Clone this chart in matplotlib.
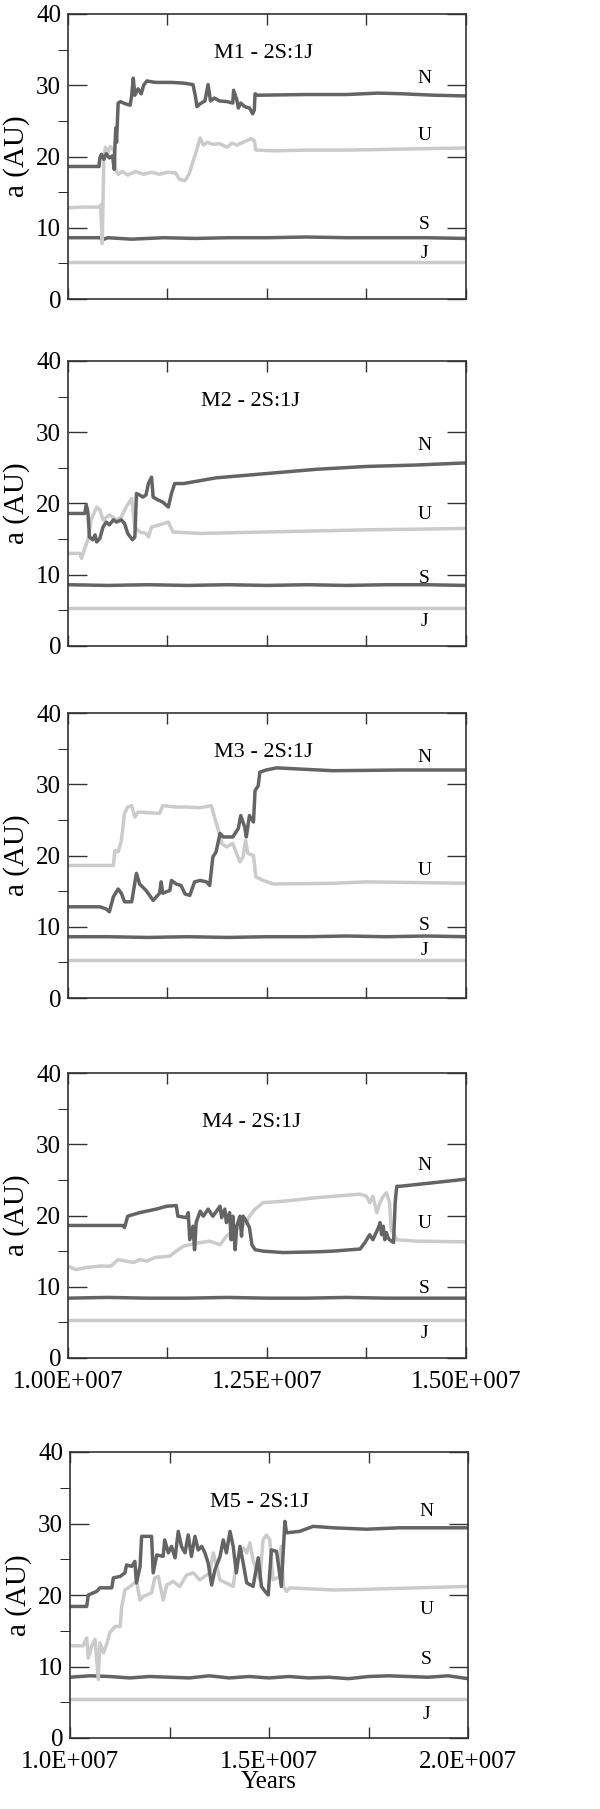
import numpy as np
import matplotlib
matplotlib.use("Agg")
import matplotlib.pyplot as plt

plt.rcParams['font.family'] = ['Liberation Serif', 'DejaVu Serif']

# time values in Myr, semi-major axis in AU
# ---- M1 ----
m1_nep_t = [10.0, 10.39, 10.40, 10.42, 10.45, 10.48, 10.52, 10.56, 10.58, 10.59, 10.60, 10.61, 10.63, 10.66,
            10.72, 10.78, 10.80, 10.82, 10.84, 10.88, 10.92, 10.95, 10.99, 11.10, 11.30, 11.45, 11.57, 11.60,
            11.62, 11.66, 11.72, 11.76, 11.79, 11.84, 11.90, 12.00, 12.07, 12.08, 12.12, 12.14, 12.17, 12.22,
            12.28, 12.32, 12.34, 12.35, 12.38, 13.0, 13.5, 13.9, 14.2, 14.6, 15.0]
m1_nep_a = [18.6, 18.6, 19.8, 20.3, 19.6, 20.4, 19.8, 20.1, 18.2, 21.5, 24.0, 22.0, 27.5, 27.7,
            27.4, 27.2, 28.5, 31.0, 28.6, 29.5, 28.8, 30.0, 30.6, 30.4, 30.4, 30.3, 30.1, 28.5,
            27.0, 27.4, 27.8, 30.1, 27.8, 28.2, 27.8, 27.7, 27.5, 29.3, 28.0, 26.8, 27.5, 27.0,
            26.8, 26.0, 26.5, 28.8, 28.6, 28.7, 28.7, 28.9, 28.8, 28.6, 28.5]
m1_ura_t = [10.0, 10.2, 10.39, 10.41, 10.43, 10.45, 10.47, 10.50, 10.53, 10.58, 10.60, 10.63, 10.68, 10.75,
            10.85, 10.95, 11.05, 11.15, 11.25, 11.35, 11.40, 11.47, 11.52, 11.57, 11.62, 11.66, 11.70, 11.75,
            11.82, 11.90, 12.00, 12.06, 12.12, 12.20, 12.30, 12.34, 12.36, 12.6, 13.0, 13.5, 14.0, 14.5, 15.0]
m1_ura_a = [12.8, 12.9, 12.9, 13.2, 7.8, 19.5, 21.3, 20.5, 21.4, 20.8, 18.1, 17.5, 17.9, 17.4,
            17.9, 17.5, 17.8, 17.5, 17.8, 17.7, 16.8, 16.6, 17.5, 19.3, 21.0, 22.6, 21.6, 22.0,
            21.7, 21.8, 21.3, 21.9, 21.6, 22.0, 22.5, 22.2, 20.9, 20.8, 20.9, 20.9, 21.0, 21.1, 21.2]
m1_sat_t = [10.0, 10.4, 10.43, 10.5, 10.8, 11.2, 11.6, 12.0, 12.5, 13.0, 13.5, 14.0, 14.5, 15.0]
m1_sat_a = [8.6, 8.6, 8.3, 8.6, 8.4, 8.6, 8.5, 8.6, 8.6, 8.7, 8.6, 8.6, 8.6, 8.5]
m1_jup_t = [10.0, 15.0]
m1_jup_a = [5.2, 5.2]

# ---- M2 ----
m2_nep_t = [10.0, 10.21, 10.23, 10.25, 10.27, 10.31, 10.34, 10.36, 10.40, 10.44, 10.48, 10.52, 10.57, 10.61,
            10.67, 10.71, 10.75, 10.81, 10.84, 10.86, 10.90, 10.94, 10.98, 11.01, 11.05, 11.07, 11.13, 11.19,
            11.26, 11.30, 11.34, 11.45, 11.86, 12.49, 13.12, 13.75, 14.38, 15.0]
m2_nep_a = [18.6, 18.6, 19.8, 18.8, 15.3, 14.9, 15.6, 14.6, 15.1, 16.7, 17.4, 17.0, 17.7, 17.4,
            17.7, 17.2, 15.8, 14.9, 15.3, 21.4, 21.2, 20.9, 21.2, 22.8, 23.7, 20.9, 20.5, 20.2,
            19.5, 21.4, 22.8, 22.8, 23.6, 24.2, 24.8, 25.2, 25.4, 25.7]
m2_ura_t = [10.0, 10.15, 10.17, 10.21, 10.25, 10.29, 10.36, 10.40, 10.44, 10.52, 10.61, 10.67, 10.73, 10.80,
            10.84, 10.90, 10.98, 11.01, 11.05, 11.15, 11.26, 11.32, 11.66, 12.49, 13.75, 15.0]
m2_ura_a = [13.0, 13.0, 12.3, 13.7, 14.9, 17.7, 19.5, 19.1, 17.7, 18.4, 17.7, 18.1, 19.5, 20.7,
            16.7, 16.0, 15.8, 15.3, 16.7, 17.0, 17.4, 16.0, 15.8, 16.0, 16.3, 16.5]
m2_sat_t = [10.0, 10.5, 11.0, 11.5, 12.0, 12.5, 13.0, 13.5, 14.0, 14.5, 15.0]
m2_sat_a = [8.6, 8.5, 8.6, 8.5, 8.6, 8.5, 8.6, 8.5, 8.6, 8.6, 8.5]
m2_jup_t = [10.0, 15.0]
m2_jup_a = [5.3, 5.3]

# ---- M3 ----
m3_nep_t = [10.0, 10.40, 10.48, 10.52, 10.57, 10.63, 10.67, 10.71, 10.80, 10.86, 10.90, 10.98, 11.07, 11.15,
            11.17, 11.19, 11.28, 11.30, 11.36, 11.42, 11.47, 11.53, 11.59, 11.66, 11.74, 11.78, 11.82, 11.86,
            11.91, 11.95, 12.07, 12.14, 12.17, 12.22, 12.24, 12.28, 12.33, 12.35, 12.39, 12.41, 12.49, 12.62,
            13.33, 14.2, 15.0]
m3_nep_a = [12.8, 12.8, 12.5, 12.1, 14.2, 15.3, 14.7, 13.5, 13.5, 17.5, 16.0, 15.1, 13.7, 14.7,
            16.3, 14.7, 15.1, 16.5, 16.0, 15.8, 14.6, 14.4, 16.3, 16.5, 16.3, 15.8, 19.8, 20.5,
            23.1, 22.6, 22.6, 23.8, 25.6, 24.0, 22.6, 25.6, 24.7, 29.1, 29.8, 31.7, 32.0, 32.3,
            31.9, 32.0, 32.0]
m3_ura_t = [10.0, 10.57, 10.59, 10.63, 10.67, 10.71, 10.75, 10.80, 10.84, 10.88, 11.15, 11.19, 11.36, 11.49,
            11.66, 11.80, 11.84, 11.89, 11.93, 11.99, 12.07, 12.11, 12.16, 12.20, 12.23, 12.26, 12.33, 12.36,
            12.45, 12.58, 13.33, 13.75, 15.0]
m3_ura_a = [18.6, 18.6, 20.7, 20.5, 22.1, 25.9, 26.8, 27.0, 25.4, 26.1, 25.9, 27.0, 26.8, 26.8,
            26.7, 27.0, 25.4, 23.5, 21.7, 21.2, 21.7, 20.5, 19.1, 19.8, 22.1, 20.3, 20.0, 17.0,
            16.5, 16.0, 16.1, 16.3, 16.1]
m3_sat_t = [10.0, 10.5, 11.0, 11.5, 12.0, 12.5, 13.0, 13.5, 14.0, 14.5, 15.0]
m3_sat_a = [8.6, 8.6, 8.5, 8.6, 8.5, 8.6, 8.6, 8.7, 8.6, 8.7, 8.6]
m3_jup_t = [10.0, 15.0]
m3_jup_a = [5.3, 5.3]

# ---- M4 ----
m4_nep_t = [10.0, 10.69, 10.71, 10.75, 10.90, 11.11, 11.24, 11.36, 11.38, 11.49, 11.51, 11.53, 11.57, 11.59,
            11.61, 11.66, 11.70, 11.76, 11.82, 11.91, 11.93, 11.97, 11.99, 12.03, 12.05, 12.07, 12.10, 12.12,
            12.16, 12.18, 12.20, 12.24, 12.28, 12.31, 12.35, 12.45, 12.70, 13.12, 13.33, 13.67, 13.73, 13.79,
            13.83, 13.90, 13.92, 13.94, 13.96, 13.98, 14.00, 14.02, 14.04, 14.09, 14.11, 14.13, 14.17, 14.59,
            15.0]
m4_nep_a = [18.6, 18.6, 18.3, 19.9, 20.4, 20.9, 21.3, 21.4, 19.9, 19.7, 20.4, 16.6, 18.5, 15.2,
            19.0, 20.6, 19.9, 20.9, 19.9, 21.3, 19.7, 20.9, 19.0, 20.4, 16.6, 19.9, 15.2, 18.5,
            19.9, 17.1, 19.9, 19.2, 18.3, 15.9, 15.2, 15.0, 14.8, 14.9, 15.0, 15.3, 16.2, 17.3,
            16.6, 18.3, 19.0, 17.3, 18.5, 16.6, 17.6, 16.9, 16.6, 16.2, 21.8, 24.1, 24.1, 24.6,
            25.1]
m4_ura_t = [10.0, 10.10, 10.23, 10.40, 10.54, 10.63, 10.73, 10.82, 10.90, 10.99, 11.09, 11.28, 11.36, 11.45,
            11.53, 11.66, 11.78, 11.91, 11.99, 12.07, 12.16, 12.24, 12.28, 12.35, 12.45, 12.70, 13.12, 13.67,
            13.75, 13.79, 13.83, 13.88, 13.92, 13.96, 14.00, 14.04, 14.06, 14.13, 14.38, 15.0]
m4_ura_a = [12.9, 12.4, 12.7, 12.9, 12.9, 13.8, 13.6, 13.4, 13.8, 13.6, 14.1, 14.3, 15.0, 15.7,
            15.9, 16.2, 16.4, 15.9, 17.1, 17.8, 18.5, 19.0, 19.9, 20.9, 21.8, 22.0, 22.5, 23.0,
            22.7, 21.8, 22.7, 20.4, 21.8, 22.7, 23.2, 21.8, 18.0, 16.6, 16.4, 16.3]
m4_sat_t = [10.0, 10.5, 11.0, 11.5, 12.0, 12.5, 13.0, 13.5, 14.0, 14.5, 15.0]
m4_sat_a = [8.4, 8.5, 8.4, 8.4, 8.5, 8.4, 8.4, 8.5, 8.4, 8.4, 8.4]
m4_jup_t = [10.0, 15.0]
m4_jup_a = [5.3, 5.3]

# ---- M5 ----
m5_nep_t = [10.0, 10.42, 10.46, 10.67, 10.75, 11.05, 11.09, 11.26, 11.38, 11.42, 11.55, 11.63, 11.67, 11.76,
            11.80, 12.05, 12.09, 12.18, 12.34, 12.38, 12.47, 12.55, 12.64, 12.72, 12.80, 12.89, 12.97, 13.05,
            13.14, 13.22, 13.31, 13.39, 13.47, 13.56, 13.64, 13.77, 13.85, 13.93, 14.02, 14.10, 14.18, 14.27,
            14.35, 14.44, 14.60, 14.73, 14.81, 14.90, 14.98, 15.06, 15.19, 15.31, 15.36, 15.40, 15.44, 15.77,
            16.11, 16.61, 17.45, 18.28, 20.0]
m5_nep_a = [18.4, 18.4, 20.0, 20.5, 21.0, 21.0, 22.4, 22.6, 23.1, 24.2, 24.0, 24.7, 21.7, 24.0,
            28.2, 28.2, 23.1, 25.6, 25.4, 27.7, 25.9, 26.8, 25.2, 28.9, 26.8, 25.9, 28.4, 25.4,
            28.2, 26.3, 26.8, 25.9, 24.5, 21.4, 23.5, 25.4, 27.7, 25.9, 28.9, 26.8, 23.1, 26.8,
            24.5, 21.7, 21.2, 25.2, 21.2, 20.5, 20.0, 26.3, 26.1, 21.2, 26.3, 30.3, 28.7, 28.9,
            29.6, 29.4, 29.2, 29.4, 29.4]
m5_ura_t = [10.0, 10.33, 10.42, 10.46, 10.54, 10.63, 10.71, 10.75, 10.84, 10.92, 11.00, 11.13, 11.26, 11.30,
            11.38, 11.51, 11.67, 11.76, 11.84, 12.05, 12.13, 12.22, 12.34, 12.43, 12.59, 12.76, 12.93, 13.10,
            13.26, 13.51, 13.60, 13.77, 14.10, 14.18, 14.35, 14.44, 14.52, 14.60, 14.77, 14.85, 14.94, 15.02,
            15.10, 15.27, 15.31, 15.36, 15.44, 15.52, 16.61, 17.45, 20.0]
m5_ura_a = [12.9, 12.9, 14.0, 11.2, 12.8, 13.8, 8.2, 13.3, 11.9, 13.1, 14.7, 15.6, 15.6, 18.4,
            20.7, 21.2, 21.9, 19.3, 19.8, 20.3, 22.4, 22.6, 19.3, 21.4, 21.9, 21.2, 22.8, 23.1,
            22.1, 23.1, 25.9, 22.1, 21.2, 24.5, 26.6, 25.9, 27.3, 24.9, 22.1, 27.7, 28.4, 27.7,
            22.1, 22.6, 26.8, 21.2, 20.5, 21.0, 20.7, 20.8, 21.2]
m5_sat_t = [10.0, 10.5, 11.0, 11.5, 12.0, 12.5, 13.0, 13.5, 14.0, 14.5, 15.0, 15.5, 16.0, 16.5, 17.0,
            17.5, 18.0, 18.5, 19.0, 19.5, 20.0]
m5_sat_a = [8.5, 8.7, 8.6, 8.4, 8.6, 8.5, 8.4, 8.7, 8.4, 8.6, 8.4, 8.6, 8.4, 8.5, 8.3, 8.6, 8.7, 8.6,
            8.5, 8.7, 8.3]
m5_jup_t = [10.0, 20.0]
m5_jup_a = [5.4, 5.4]

titles = ["M1 - 2S:1J", "M2 - 2S:1J", "M3 - 2S:1J", "M4 - 2S:1J", "M5 - 2S:1J"]
planet_names = ["N", "U", "S", "J"]
# label heights (AU) for N, U, S, J in each panel
label_y = [[31.0, 23.0, 10.4, 6.4],
           [28.2, 18.4, 9.5, 3.4],
           [33.7, 17.9, 10.2, 6.6],
           [27.0, 18.9, 9.8, 3.5],
           [31.7, 18.0, 11.0, 3.3]]

panels = [
    (m1_nep_t, m1_nep_a, m1_ura_t, m1_ura_a, m1_sat_t, m1_sat_a, m1_jup_t, m1_jup_a),
    (m2_nep_t, m2_nep_a, m2_ura_t, m2_ura_a, m2_sat_t, m2_sat_a, m2_jup_t, m2_jup_a),
    (m3_nep_t, m3_nep_a, m3_ura_t, m3_ura_a, m3_sat_t, m3_sat_a, m3_jup_t, m3_jup_a),
    (m4_nep_t, m4_nep_a, m4_ura_t, m4_ura_a, m4_sat_t, m4_sat_a, m4_jup_t, m4_jup_a),
    (m5_nep_t, m5_nep_a, m5_ura_t, m5_ura_a, m5_sat_t, m5_sat_a, m5_jup_t, m5_jup_a),
]

dark = '#646464'
light = '#cbcbcb'
W, H = 600, 1809
fig = plt.figure(figsize=(W / 100, H / 100), dpi=100)

# axes boxes in pixels: left, top, right, bottom
boxes = [(68, 14, 466, 299), (68, 361, 466, 646), (68, 713, 466, 998),
         (68, 1073, 466, 1358), (70, 1452, 468, 1738)]
title_pos = [(0.49, 0.86), (0.458, 0.857), (0.49, 0.862), (0.462, 0.826), (0.475, 0.822)]

for i, (box, data) in enumerate(zip(boxes, panels)):
    l, t, r, b = box
    ax = fig.add_axes([l / W, 1 - b / H, (r - l) / W, (b - t) / H])
    nt, na, ut, ua, st, sa, jt, ja = data
    ax.plot(np.array(jt) * 1e6, ja, color=light, lw=2.5)
    ax.plot(np.array(st) * 1e6, sa, color=dark, lw=2.5)
    ax.plot(np.array(ut) * 1e6, ua, color=light, lw=2.5)
    ax.plot(np.array(nt) * 1e6, na, color=dark, lw=2.5)

    ax.set_ylim(0, 40)
    ax.set_yticks([0, 10, 20, 30, 40])
    ax.set_yticks([5, 15, 25, 35], minor=True)
    if i < 4:
        ax.set_xlim(1.0e7, 1.5e7)
        ax.set_xticks([1.0e7, 1.125e7, 1.25e7, 1.375e7, 1.5e7])
        if i == 3:
            ax.set_xticklabels(['1.00E+007', '', '1.25E+007', '', '1.50E+007'])
        else:
            ax.set_xticklabels([])
    else:
        ax.set_xlim(1.0e7, 2.0e7)
        ax.set_xticks([1.0e7, 1.25e7, 1.5e7, 1.75e7, 2.0e7])
        ax.set_xticklabels(['1.0E+007', '', '1.5E+007', '', '2.0E+007'])
        ax.set_xlabel('Years', fontsize=18, labelpad=-1)

    ax.tick_params(axis='both', direction='in', top=True, right=True,
                   labelsize=18, color='#333333', width=1.0)
    ax.tick_params(axis='y', which='major', length=14, pad=5)
    ax.tick_params(axis='y', which='minor', length=7)
    ax.tick_params(axis='x', which='major', length=8, pad=9)
    for sp in ax.spines.values():
        sp.set_linewidth(1.2)
        sp.set_color('#333333')

    ax.set_ylabel('a (AU)', fontsize=21, labelpad=4)
    ax.text(title_pos[i][0], title_pos[i][1], titles[i], transform=ax.transAxes,
            ha='center', va='center', fontsize=16)
    for name, yv in zip(planet_names, label_y[i]):
        ax.text(0.895, yv, name, transform=ax.get_yaxis_transform(),
                ha='center', va='center', fontsize=14)

fig.savefig('out.png', dpi=100)
